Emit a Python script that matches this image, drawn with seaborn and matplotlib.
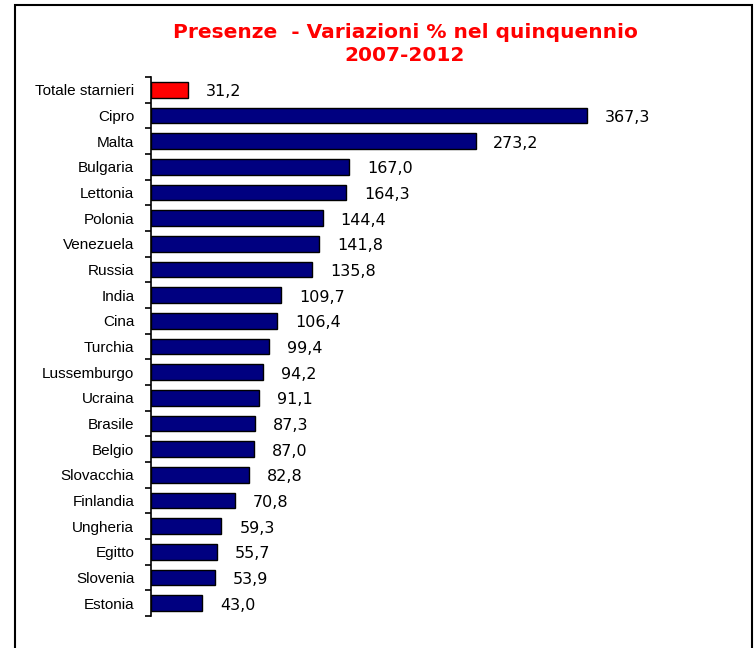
import numpy as np
import pandas as pd
import seaborn as sns
import matplotlib.pyplot as plt
from matplotlib.patches import Rectangle

paesi = ["Totale starnieri", "Cipro", "Malta", "Bulgaria", "Lettonia", "Polonia",
         "Venezuela", "Russia", "India", "Cina", "Turchia", "Lussemburgo", "Ucraina",
         "Brasile", "Belgio", "Slovacchia", "Finlandia", "Ungheria", "Egitto",
         "Slovenia", "Estonia"]
variazioni = [31.2, 367.3, 273.2, 167.0, 164.3, 144.4, 141.8, 135.8, 109.7, 106.4,
              99.4, 94.2, 91.1, 87.3, 87.0, 82.8, 70.8, 59.3, 55.7, 53.9, 43.0]
colori = ["#ff0000"] + ["#000080"] * (len(paesi) - 1)

df = pd.DataFrame({"paese": paesi, "var": variazioni})

sns.set_style("white")
fig = plt.figure(figsize=(7.56, 6.48), dpi=100)
ax = fig.add_axes([151 / 756, 32 / 648, 569 / 756, 539 / 648])

sns.barplot(data=df, x="var", y="paese", hue="paese", palette=colori, legend=False,
            orient="h", width=0.6, edgecolor="black", linewidth=1, saturation=1, ax=ax)

for i, v in enumerate(variazioni):
    ax.text(v + 15, i + 0.08, f"{v:.1f}".replace(".", ","), va="center", ha="left",
            fontsize=11.5, family="DejaVu Sans", color="black")

ax.set_xlim(0, 479)
ax.set_ylim(len(paesi) - 0.5, -0.5)
ax.set_xlabel("")
ax.set_ylabel("")
ax.set_xticks([])
for s in ["top", "right", "bottom"]:
    ax.spines[s].set_visible(False)
ax.spines["left"].set_linewidth(1.2)
ax.spines["left"].set_color("black")
ax.set_yticks(np.arange(len(paesi)))
ax.set_yticklabels(paesi, family="Liberation Sans", fontsize=11, color="black")
ax.set_yticks(np.arange(len(paesi) + 1) - 0.5, minor=True)
ax.tick_params(axis="y", which="major", left=False, length=0, pad=12)
ax.tick_params(axis="y", which="minor", left=True, length=4, width=1.2,
               color="black", direction="out")

fig.text(405 / 756, 1 - 44 / 648, "Presenze  - Variazioni % nel quinquennio\n2007-2012",
         ha="center", va="center", color="#ff0000", fontsize=14.5, fontweight="bold",
         family="DejaVu Sans", linespacing=1.3)

fig.patches.append(Rectangle((15 / 756, -0.01), 737 / 756, 1 - 5 / 648 + 0.01,
                             transform=fig.transFigure, fill=False,
                             edgecolor="black", linewidth=1.5))

fig.savefig("out.png", dpi=100)
